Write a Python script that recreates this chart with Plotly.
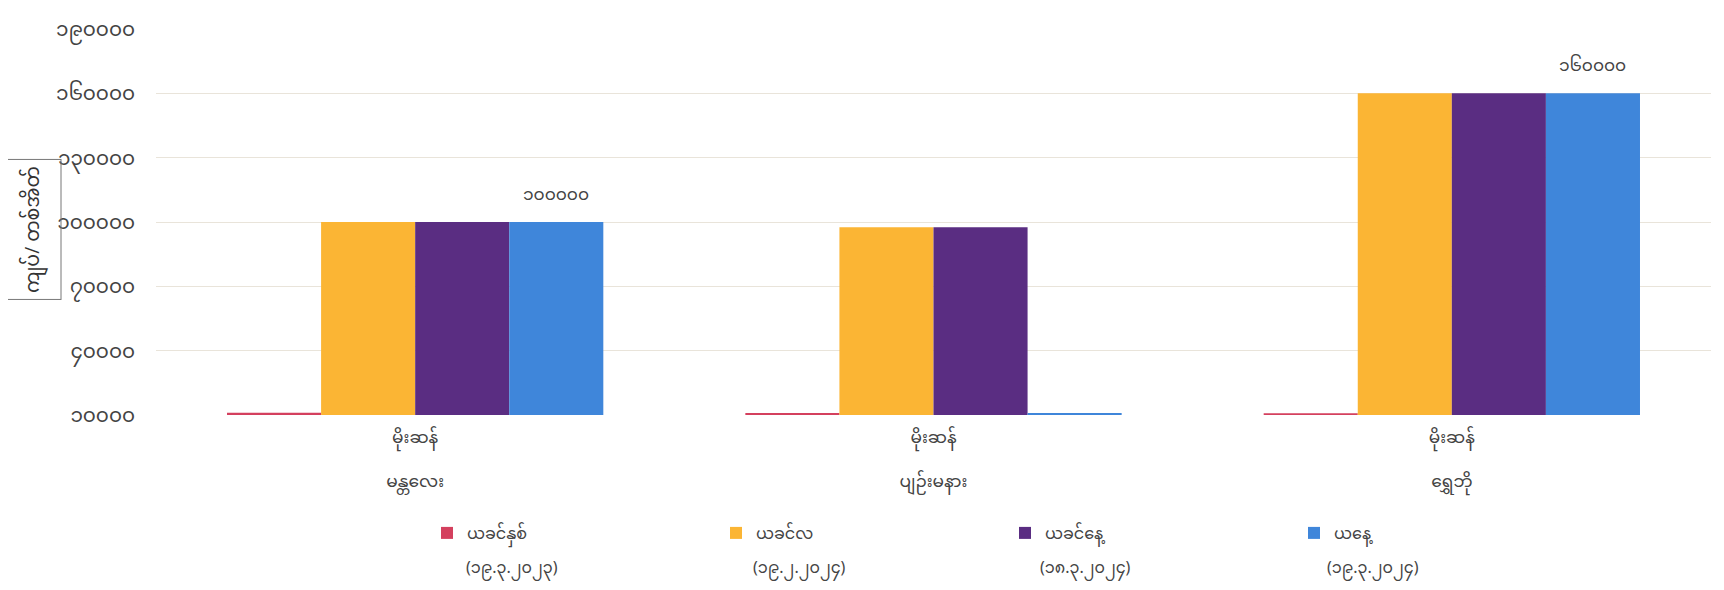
import plotly.graph_objects as go

# ---- data ----
categories = ["မိုးဆန်<br><br>မန္တလေး", "မိုးဆန်<br><br>ပျဉ်းမနား", "မိုးဆန်<br><br>ရွှေဘို"]
series_names = ["ယခင်နှစ်", "ယခင်လ", "ယခင်နေ့", "ယနေ့"]
series_dates = ["(၁၉.၃.၂၀၂၃)", "(၁၉.၂.၂၀၂၄)", "(၁၈.၃.၂၀၂၄)", "(၁၉.၃.၂၀၂၄)"]
prev_year = [11000, 10900, 10800]
prev_month = [100000, 97500, 160000]
prev_day = [100000, 97500, 160000]
today = [100000, 10900, 160000]
today_labels = ["၁၀၀၀၀၀", "", "၁၆၀၀၀၀"]

y_tickvals = [10000, 40000, 70000, 100000, 130000, 160000, 190000]
y_ticktext = ["၁၀၀၀၀", "၄၀၀၀၀", "၇၀၀၀၀", "၁၀၀၀၀၀", "၁၃၀၀၀၀", "၁၆၀၀၀၀", "၁၉၀၀၀၀"]
y_title = "ကျပ်/ တစ်အိတ်"

colors = ["#d4405e", "#fbb534", "#5a2d82", "#3f86da"]
FONT = "Noto Sans Myanmar, Padauk, Myanmar Text, Noto Sans, sans-serif"
TXT = "#444444"

W, H = 1724, 590
ML, MR, MT, MB = 148, 21, 21, 183
BARGAP = 0.274
plot_w = W - ML - MR
plot_h = H - MT - MB

# legend geometry (pixels)
LEG_X = 419
LEG_TOP = 508
ENTRY_W = 244
ENTRY_STEP = ENTRY_W + 43
TEXT_OFF = 38
DATE_Y = 561

fig = go.Figure()
all_vals = [prev_year, prev_month, prev_day, today]
for i, (name, vals) in enumerate(zip(series_names, all_vals)):
    fig.add_trace(go.Bar(
        x=categories, y=vals, name=name,
        marker=dict(color=colors[i], line=dict(width=0))))

# data labels above the "today" bars (4th bar of each group)
bar_w = plot_w / len(categories) * (1 - BARGAP) / 4
for cat, val, lab in zip(categories, today, today_labels):
    if lab:
        fig.add_annotation(x=cat, y=val, xref="x", yref="y", text=lab, showarrow=False,
                           xshift=1.5 * bar_w, yshift=26,
                           font=dict(size=17, family=FONT, color=TXT))

# second line of each legend entry (date)
for i, d in enumerate(series_dates):
    px = LEG_X + TEXT_OFF + i * ENTRY_STEP
    fig.add_annotation(xref="paper", yref="paper",
                       x=(px - ML) / plot_w, y=(H - MB - DATE_Y) / plot_h,
                       xanchor="left", yanchor="middle", text=d, showarrow=False,
                       borderpad=0,
                       font=dict(size=16, family=FONT, color=TXT))

fig.update_layout(
    width=W, height=H,
    margin=dict(l=ML, r=MR, t=MT, b=MB),
    paper_bgcolor="white", plot_bgcolor="white",
    barmode="group", bargap=BARGAP, bargroupgap=0,
    font=dict(family=FONT, color=TXT, size=16),
    legend=dict(orientation="h", x=(LEG_X - ML) / plot_w, xanchor="left",
                y=-(LEG_TOP - (H - MB)) / plot_h, yanchor="top",
                entrywidth=ENTRY_W, entrywidthmode="pixels", valign="top",
                font=dict(size=16, family=FONT, color=TXT)),
    showlegend=True,
)
fig.update_xaxes(showgrid=False, showline=False, ticks="", automargin=False,
                 ticklabelstandoff=10,
                 tickfont=dict(size=17, family=FONT, color=TXT))
fig.update_yaxes(range=[10000, 190000], tickvals=y_tickvals, ticktext=y_ticktext,
                 showgrid=True, gridcolor="#e9e4da", gridwidth=1, zeroline=False,
                 showline=False, ticks="", ticklabelstandoff=20, automargin=False,
                 tickfont=dict(size=20, family=FONT, color=TXT))
fig.add_annotation(xref="paper", yref="paper", x=-0.096, y=0.48, text=y_title,
                   textangle=-90, showarrow=False, bordercolor="#777777", borderwidth=1,
                   borderpad=6, font=dict(size=19, family=FONT, color="#333333"))
fig.write_html("out.html")
